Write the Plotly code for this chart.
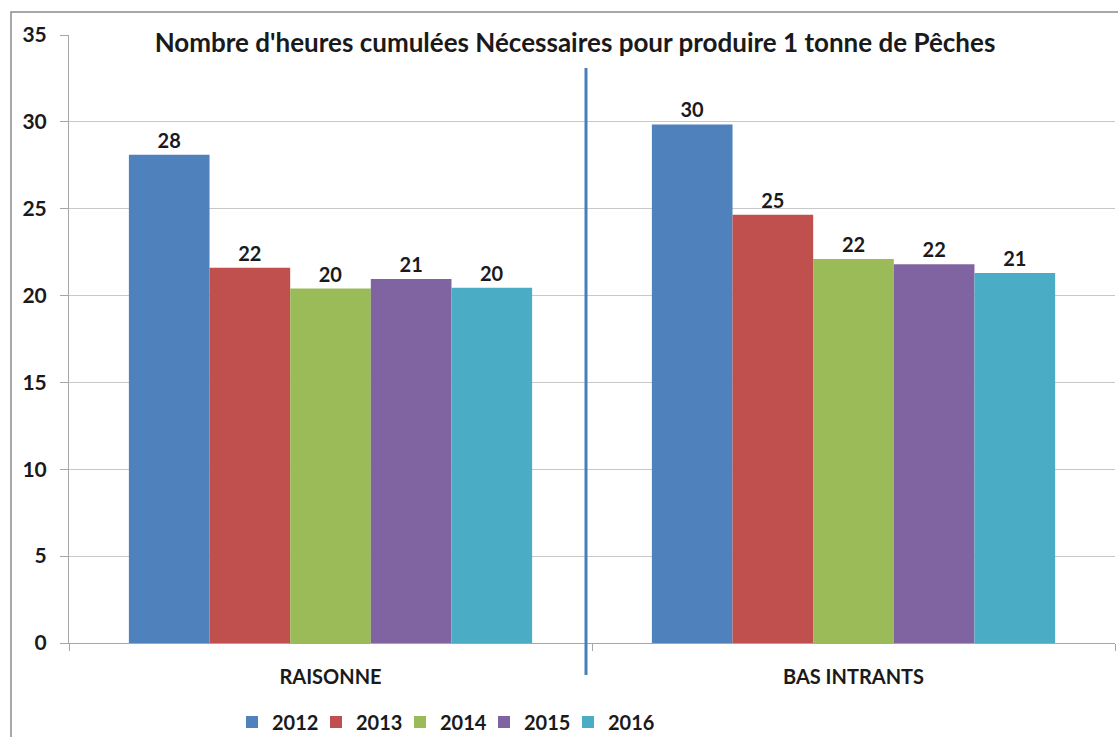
import plotly.graph_objects as go

categories = ["RAISONNE", "BAS INTRANTS"]
years = ["2012", "2013", "2014", "2015", "2016"]
v2012 = [28.1, 29.85]
v2013 = [21.6, 24.65]
v2014 = [20.4, 22.1]
v2015 = [20.95, 21.8]
v2016 = [20.45, 21.3]
series = [v2012, v2013, v2014, v2015, v2016]
colors = ["#4F81BD", "#C0504D", "#9BBB59", "#8064A2", "#4BACC6"]
title = "Nombre d'heures cumulées Nécessaires pour produire 1 tonne de Pêches"

FONT = "Lato"

fig = go.Figure()
for name, vals, col in zip(years, series, colors):
    fig.add_trace(go.Bar(
        x=categories, y=vals, name=name,
        marker=dict(color=col, line=dict(width=0)),
        texttemplate="%{y:.0f}", textposition="outside",
        textfont=dict(family=FONT, size=20, color="#1a1a1a", weight="bold"),
        cliponaxis=False,
    ))
# invisible spacer entry so the last legend label is not clipped
fig.add_trace(go.Scatter(x=[None], y=[None], name=" ", mode="markers",
                         marker=dict(color="rgba(0,0,0,0)"), hoverinfo="skip"))

W, H = 1118, 737
L, R, T, B = 69, 3, 35, 94
pw = W - L - R
ph = H - T - B

def px_x(x):
    return (x - L) / pw

def px_y(y):
    return (H - B - y) / ph

fig.update_layout(
    width=W, height=H,
    margin=dict(l=L, r=R, t=T, b=B, autoexpand=False),
    paper_bgcolor="white", plot_bgcolor="white",
    barmode="group", bargap=0.229, bargroupgap=0,
    font=dict(family=FONT, color="#1a1a1a"),
    title=dict(text="<b>" + title + "</b>", x=575 / W, xanchor="center",
               y=1 - 43 / H, yanchor="middle",
               font=dict(family=FONT, size=26, color="#1a1a1a")),
    showlegend=True,
    legend=dict(orientation="h", xref="container", yref="container",
                x=232 / W, xanchor="left",
                y=1 - 722 / H, yanchor="middle",
                font=dict(family=FONT, size=20, color="#1a1a1a", weight="bold"),
                entrywidth=39, entrywidthmode="pixels",
                itemwidth=30, traceorder="normal", bgcolor="rgba(0,0,0,0)"),
    xaxis=dict(showline=True, linecolor="#a6a6a6", linewidth=1,
               ticks="outside", tickson="boundaries", ticklen=7,
               tickcolor="#a6a6a6", ticklabelstandoff=16,
               tickfont=dict(family=FONT, size=20, color="#1a1a1a", weight="bold")),
    yaxis=dict(range=[0, 35], dtick=5, showgrid=True, gridcolor="#c8c8c8",
               gridwidth=1, showline=True, linecolor="#a6a6a6", linewidth=1,
               ticks="outside", ticklen=8, tickcolor="#a6a6a6",
               ticklabelstandoff=9, zeroline=False,
               tickfont=dict(family=FONT, size=21, color="#1a1a1a", weight="bold")),
    shapes=[
        dict(type="line", xref="paper", yref="paper",
             x0=px_x(586), x1=px_x(586), y0=px_y(68), y1=px_y(675),
             line=dict(color="#4A7EBB", width=3)),
        dict(type="rect", xref="paper", yref="paper",
             x0=px_x(11), x1=px_x(1130), y0=px_y(12), y1=px_y(760),
             line=dict(color="#8c8c8c", width=1.5), layer="below"),
    ],
)

fig.write_html("out.html", config={"displayModeBar": False},
               post_script="document.body.style.margin='0';document.body.style.overflow='hidden';")
